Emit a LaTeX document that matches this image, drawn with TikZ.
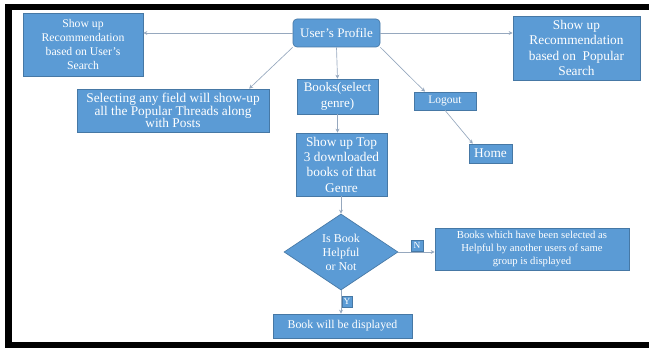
\documentclass[tikz,border=0pt]{standalone}
\usepackage{fontspec}
\setmainfont{Liberation Serif}
\usetikzlibrary{shapes.geometric,arrows.meta}

\definecolor{boxblue}{RGB}{91,155,213}
\definecolor{boxline}{RGB}{70,120,165}
\definecolor{flowgray}{RGB}{150,168,190}

\begin{document}
\begin{tikzpicture}
  [x=0.75pt,y=-0.75pt,
   box/.style={draw=boxline,line width=0.5pt,fill=boxblue,text=white,inner sep=1pt,align=center},
   tag/.style={box,inner sep=0pt,font=\fontsize{7}{8}\selectfont},
   flow/.style={draw=flowgray,line width=0.5pt,-{Stealth[length=3pt,width=3pt]}}]
  \useasboundingbox (0,0) rectangle (649,348);
  % frame
  \fill[black] (5,4) rectangle (649,10);
  \fill[black] (5,4) rectangle (12,348);
  \fill[black] (5,342) rectangle (649,348);

  \node[box,rounded corners=3pt,minimum width=65.25pt,minimum height=21pt,font=\fontsize{9.8}{11.5}\selectfont] (profile) at (336.5,33) {User's Profile};
  \node[box,minimum width=90pt,minimum height=47.25pt,font=\fontsize{8.8}{10.5}\selectfont] (userrec) at (83,44.5) {Show up\\Recommendation\\based on User's\\Search};
  \node[box,minimum width=95.25pt,minimum height=48pt,font=\fontsize{10}{11.7}\selectfont] (poprec) at (576.5,48) {Show up\\Recommendation\\based on\ \ Popular\\Search};
  \node[box,minimum width=144pt,minimum height=32.25pt,font=\fontsize{10}{9.6}\selectfont] (threads) at (173,110.5) {Selecting any field will show-up\\all the Popular Threads along\\with Posts};
  \node[box,minimum width=60.75pt,minimum height=26.25pt,font=\fontsize{9.8}{12}\selectfont] (books) at (337.5,96.5) {Books(select\\genre)};
  \node[box,minimum width=46.5pt,minimum height=13.5pt,font=\fontsize{8.6}{10}\selectfont] (logout) at (445,101) {Logout};
  \node[box,minimum width=32.25pt,minimum height=14.25pt,font=\fontsize{10}{11}\selectfont] (home) at (490.5,153.5) {Home};
  \node[box,minimum width=68.25pt,minimum height=47.25pt,font=\fontsize{10}{11.5}\selectfont] (top3) at (341.5,164.5) {Show up Top\\3 downloaded\\books of that\\Genre};
  \node[box,diamond,aspect=1.5,inner sep=0pt,minimum width=85.5pt,minimum height=57pt,font=\fontsize{9}{10.5}\selectfont] (helpful) at (341,252) {Is Book\\Helpful\\or Not};
  \node[box,minimum width=145.5pt,minimum height=31.5pt,font=\fontsize{8}{9.75}\selectfont] (others) at (532,249) {Books which have been selected as\\Helpful by another users of same\\group is displayed};
  \node[box,minimum width=104.25pt,minimum height=18pt,font=\fontsize{8.9}{10}\selectfont] (shown) at (342.5,326) {Book will be displayed};

  \draw[flow] (profile.west) -- (userrec.east |- profile.west);
  \draw[flow] (profile.east) -- (poprec.west |- profile.east);
  \draw[flow] (profile.south west) -- (threads.16);
  \draw[flow] (profile.south) -- (books.north);
  \draw[flow] (profile.south east) -- (logout.155);
  \draw[flow] (logout.south) -- (home.151);
  \draw[flow] (books.south) -- (books.south |- top3.north);
  \draw[flow] (top3.south) -- (top3.south -| helpful.north) -- (helpful.north);
  \draw[flow] (helpful.east) -- (others.west |- helpful.east);
  \draw[flow] (helpful.south) -- (helpful.south |- shown.north);

  \node[tag,minimum width=9pt,minimum height=8.25pt] (no) at (417,245.5) {N};
  \node[tag,minimum width=7.5pt,minimum height=8.25pt] (yes) at (347,301.5) {Y};
\end{tikzpicture}
\end{document}
